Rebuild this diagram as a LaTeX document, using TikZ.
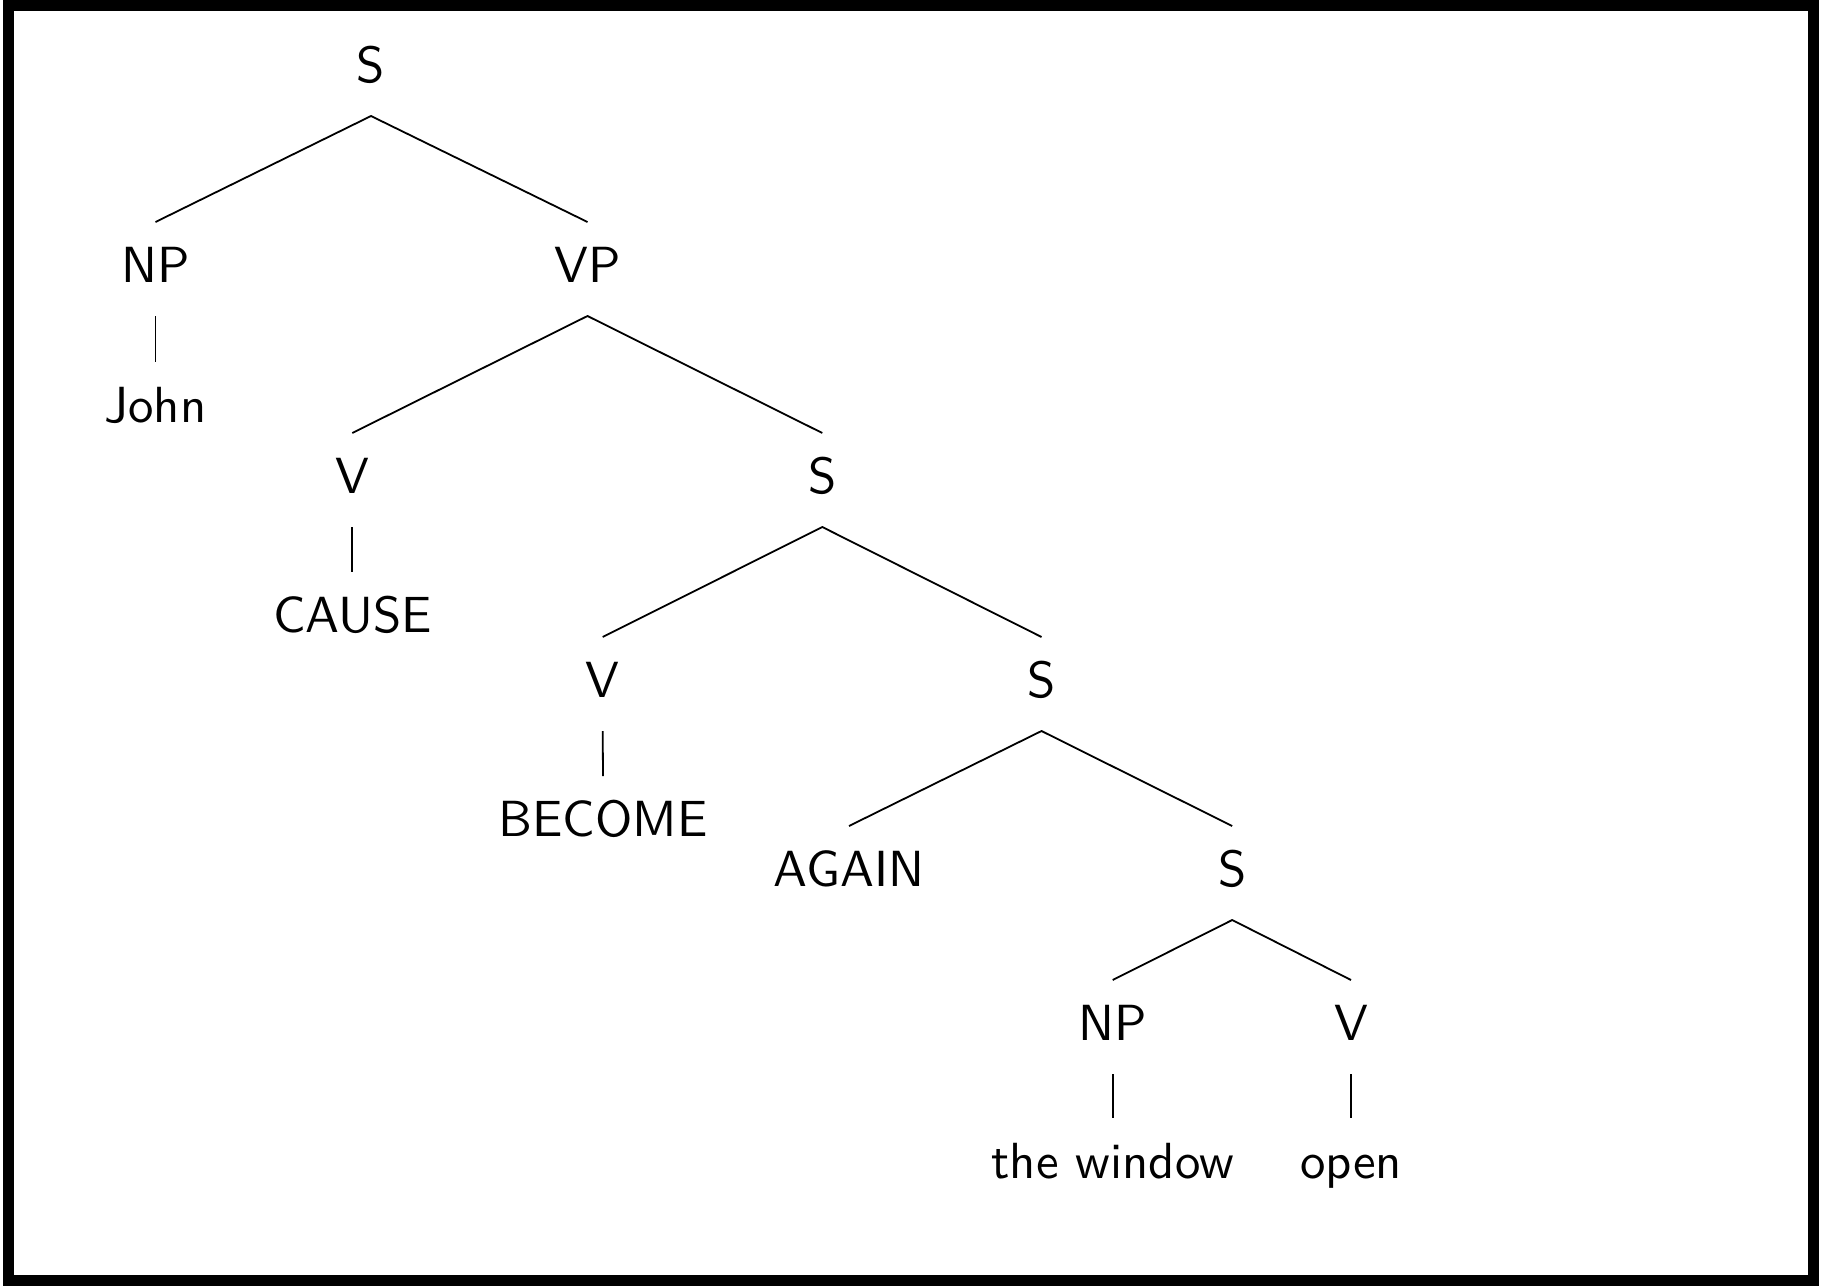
\documentclass[tikz,border=0pt]{standalone}
\usepackage{fontspec}
\newfontfamily\lmsx{lmsans10-regular.otf}
\begin{document}
\begin{tikzpicture}[x=0.5pt,y=-0.5pt,
  lbl/.style={inner sep=0pt, outer sep=0pt, text height=30pt, text depth=17pt, anchor=base,
    font=\lmsx\fontsize{25.4pt}{30pt}\selectfont},
  branch/.style={line width=0.9pt}]
\useasboundingbox (0,0) rectangle (1821,1286);
\draw[line width=5.5pt] (8.5,5.5) rectangle (1813,1280.5);

\node[lbl] (S0) at (371,82) {S};
\node[lbl] (NP1) at (155.5,282) {NP};
\node[lbl] (VP) at (587.5,282) {VP};
\node[lbl] (John) at (155.5,422) {John};
\node[lbl] (V1) at (352.3,493) {V};
\node[lbl] (S2) at (822.3,493) {S};
\node[lbl] (CAUSE) at (352.3,632) {CAUSE};
\node[lbl] (V2) at (602.7,697) {V};
\node[lbl] (S3) at (1041.5,697) {S};
\node[lbl] (BECOME) at (603,836) {BECOME};
\node[lbl] (AGAIN) at (849,886) {AGAIN};
\node[lbl] (S4) at (1232.2,886) {S};
\node[lbl] (NP2) at (1112.7,1040) {NP};
\node[lbl] (V3) at (1351,1040) {V};
\node[lbl] (win) at (1112.7,1178) {the window};
\node[lbl] (open) at (1351,1178) {open};

\draw[branch] (NP1.north) -- (S0.south) -- (VP.north);
\draw[branch] (NP1.south) -- (John.north);
\draw[branch] (V1.north) -- (VP.south) -- (S2.north);
\draw[branch] (V1.south) -- (CAUSE.north);
\draw[branch] (V2.north) -- (S2.south) -- (S3.north);
\draw[branch] (V2.south) -- (BECOME.north);
\draw[branch] (AGAIN.north) -- (S3.south) -- (S4.north);
\draw[branch] (NP2.north) -- (S4.south) -- (V3.north);
\draw[branch] (NP2.south) -- (win.north);
\draw[branch] (V3.south) -- (open.north);
\end{tikzpicture}
\end{document}
